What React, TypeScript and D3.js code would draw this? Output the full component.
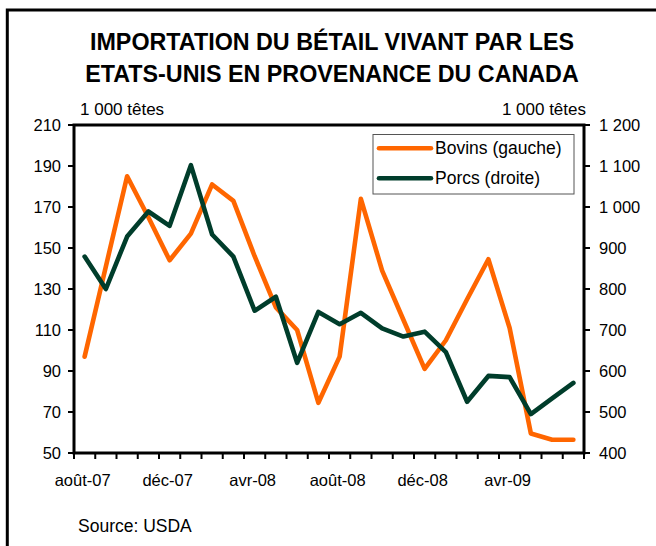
import React from "react";
import * as d3 from "d3";

const months = [
  "août-07", "sept-07", "oct-07", "nov-07", "déc-07", "janv-08", "févr-08", "mars-08",
  "avr-08", "mai-08", "juin-08", "juil-08", "août-08", "sept-08", "oct-08", "nov-08",
  "déc-08", "janv-09", "févr-09", "mars-09", "avr-09", "mai-09", "juin-09", "juil-09",
];
const bovins = [97, 141, 185, 165, 144, 157, 181, 173, 146, 121, 110, 74.5, 97, 174, 139, 115, 91, 105, 125, 144.5, 111, 59.5, 56.5, 56.5];
const porcs = [879, 800, 928, 989, 954, 1102, 933, 879, 747, 781, 620, 744, 714, 742, 704, 684, 696, 646, 525, 588, 585, 495, 533, 571];
const leftTicks = [50, 70, 90, 110, 130, 150, 170, 190, 210];
const rightTicks = [400, 500, 600, 700, 800, 900, 1000, 1100, 1200];
const labelEvery = 4;
const titleLines = ["IMPORTATION DU BÉTAIL VIVANT PAR LES", "ETATS-UNIS EN PROVENANCE DU CANADA"];
const seriesNames = ["Bovins (gauche)", "Porcs (droite)"];

const W = 656, H = 546;
const L = 74, R = 584, T = 125, B = 453;
const ORANGE = "#FF6600";
const GREEN = "#003D2B";
const FONT = "'Liberation Sans', Arial, Helvetica, sans-serif";

export default function App() {
  const x = d3.scaleBand<string>().domain(months).range([L, R]).padding(0);
  const yL = d3.scaleLinear().domain([50, 210]).range([B, T]);
  const yR = d3.scaleLinear().domain([400, 1200]).range([B, T]);
  const cx = (m: string) => (x(m) as number) + x.bandwidth() / 2;

  const lineL = d3.line<number>().x((_, i) => cx(months[i])).y((d) => yL(d));
  const lineR = d3.line<number>().x((_, i) => cx(months[i])).y((d) => yR(d));

  const xTickPos = months.map((m) => x(m) as number).concat([R]);

  return (
    <svg width={W} height={H} style={{ position: "absolute", left: 0, top: 0, background: "#fff" }} fontFamily={FONT}>
      <rect x={0} y={0} width={W} height={H} fill="#fff" />
      {/* outer frame (extends beyond the picture on right and bottom) */}
      <rect x={7.3} y={10} width={W + 20} height={H + 20} fill="none" stroke="#000" strokeWidth={3} />

      {/* title */}
      {titleLines.map((t, i) => (
        <text key={t} x={332} y={50 + i * 31.7} textAnchor="middle" fontWeight="bold" fontSize={23.3} fill="#000">
          {t}
        </text>
      ))}

      {/* unit labels */}
      <text x={80} y={115} fontSize={17} fill="#000">1 000 têtes</text>
      <text x={586} y={115} fontSize={17} textAnchor="end" fill="#000">1 000 têtes</text>

      {/* series */}
      <path d={lineL(bovins) || ""} fill="none" stroke={ORANGE} strokeWidth={4.6} strokeLinejoin="round" strokeLinecap="round" />
      <path d={lineR(porcs) || ""} fill="none" stroke={GREEN} strokeWidth={4.6} strokeLinejoin="round" strokeLinecap="round" />

      {/* plot frame */}
      <rect x={L} y={T} width={R - L} height={B - T} fill="none" stroke="#000" strokeWidth={3} />

      {/* left axis */}
      {leftTicks.map((v) => (
        <g key={"l" + v}>
          <line x1={L - 6} x2={L} y1={yL(v)} y2={yL(v)} stroke="#000" strokeWidth={2} />
          <text x={L - 13} y={yL(v)} dy="0.35em" textAnchor="end" fontSize={16.5} fill="#000">{v}</text>
        </g>
      ))}

      {/* right axis */}
      {rightTicks.map((v) => (
        <g key={"r" + v}>
          <line x1={R} x2={R + 6} y1={yR(v)} y2={yR(v)} stroke="#000" strokeWidth={2} />
          <text x={R + 15} y={yR(v)} dy="0.35em" textAnchor="start" fontSize={16.5} fill="#000">
            {d3.format(",")(v).replace(",", " ")}
          </text>
        </g>
      ))}

      {/* x axis */}
      {xTickPos.map((p, i) => (
        <line key={"xt" + i} x1={p} x2={p} y1={B} y2={B + 6} stroke="#000" strokeWidth={2} />
      ))}
      {months.map((m, i) =>
        i % labelEvery === 0 ? (
          <text key={"xl" + m} x={cx(m) - 2} y={486} textAnchor="middle" fontSize={16.5} fill="#000">{m}</text>
        ) : null
      )}

      {/* legend */}
      <rect x={373} y={134.5} width={201} height={59.5} fill="#fff" stroke="#555" strokeWidth={1} />
      <line x1={379} x2={431} y1={148.3} y2={148.3} stroke={ORANGE} strokeWidth={4.6} strokeLinecap="round" />
      <line x1={379} x2={431} y1={178.3} y2={178.3} stroke={GREEN} strokeWidth={4.6} strokeLinecap="round" />
      <text x={435} y={148.3} dy="0.35em" fontSize={17.5} fill="#000">{seriesNames[0]}</text>
      <text x={435} y={178.3} dy="0.35em" fontSize={17.5} fill="#000">{seriesNames[1]}</text>

      {/* source */}
      <text x={78} y={532} fontSize={17.5} fill="#000">Source: USDA</text>
    </svg>
  );
}
